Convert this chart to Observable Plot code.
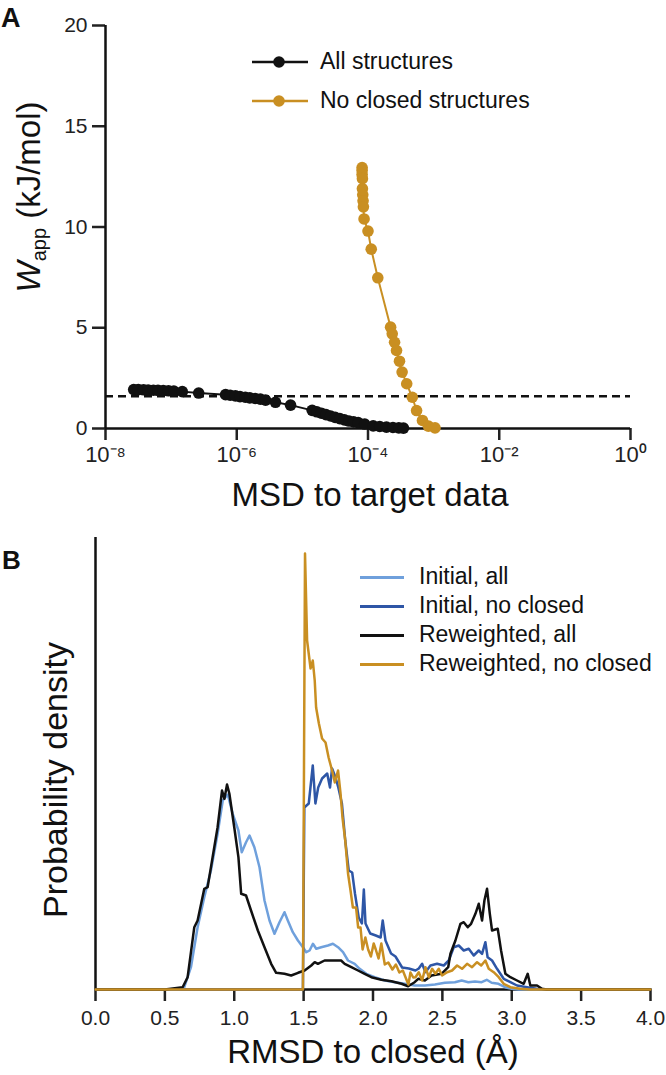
<!DOCTYPE html>
<html><head><meta charset="utf-8">
<script src="https://cdn.jsdelivr.net/npm/d3@7"></script>
<script src="https://cdn.jsdelivr.net/npm/@observablehq/plot@0.6"></script>
<style>
body{margin:0;background:#fff;font-family:"Liberation Sans",Arial,Helvetica,sans-serif;color:#111}
#fig{position:relative;width:666px;height:1075px;overflow:hidden;background:#fff}
.t{position:absolute;white-space:nowrap;line-height:1}
</style></head><body><div id="fig"></div>
<script>
// ---------- Panel A data ----------
const msdAll = [2.69e-8,3.16e-8,3.80e-8,4.47e-8,5.37e-8,6.31e-8,7.59e-8,9.12e-8,1.10e-7,1.48e-7,2.63e-7,
  6.76e-7,7.94e-7,9.55e-7,1.12e-6,1.35e-6,1.58e-6,1.91e-6,2.29e-6,2.75e-6,3.89e-6,6.61e-6,
  1.41e-5,1.66e-5,1.95e-5,2.29e-5,2.69e-5,3.16e-5,3.72e-5,4.37e-5,5.13e-5,6.03e-5,7.08e-5,8.91e-5,
  1.20e-4,1.51e-4,1.91e-4,2.40e-4,2.95e-4,3.47e-4];
const wAll = [1.93,1.93,1.92,1.91,1.90,1.89,1.88,1.87,1.86,1.83,1.76,
  1.68,1.65,1.62,1.58,1.55,1.52,1.49,1.46,1.41,1.30,1.16,
  0.90,0.83,0.76,0.69,0.62,0.55,0.49,0.43,0.37,0.33,0.29,0.22,
  0.13,0.10,0.07,0.05,0.03,0.02];
const msdNoClosed = [8.13e-5,8.13e-5,8.13e-5,8.22e-5,8.22e-5,8.32e-5,8.41e-5,8.51e-5,8.71e-5,1.0e-4,1.12e-4,1.41e-4,
  2.21e-4,2.34e-4,2.54e-4,2.72e-4,3.02e-4,3.31e-4,3.89e-4,4.73e-4,5.50e-4,6.76e-4,8.32e-4,1.05e-3];
const wNoClosed = [12.95,12.8,12.6,12.4,11.9,11.6,11.3,11.0,10.4,9.8,8.9,7.48,
  5.03,4.7,4.28,3.87,3.34,2.8,2.22,1.55,0.89,0.40,0.12,0.03];
const wThreshold = 1.6;
const xTicksA = [1e-8,1e-6,1e-4,1e-2,1];
const yTicksA = [0,5,10,15,20];
const seriesA = ["All structures","No closed structures"];

// ---------- Panel B data ----------
const initAllX = [0,0.6,0.64,0.688,0.736,0.784,0.832,0.88,0.917,0.953,0.989,1.03,1.054,1.085,1.11,1.145,1.182,1.218,1.254,1.29,1.326,1.362,1.386,1.422,1.459,1.495,1.519,1.543,1.567,1.591,1.627,1.675,1.711,1.748,1.784,1.82,1.868,1.904,1.952,2.012,2.085,2.157,2.229,2.3,2.374,2.446,2.518,2.59,2.639,2.687,2.735,2.783,2.82,2.855,2.904,2.952,3.0,3.05,4.0];
const initAllY = [0,0,0.023,0.223,0.623,0.923,1.19,1.557,1.89,1.95,1.757,1.59,1.373,1.473,1.54,1.423,1.223,0.89,0.69,0.557,0.673,0.773,0.69,0.573,0.49,0.423,0.373,0.39,0.457,0.407,0.423,0.44,0.457,0.423,0.373,0.29,0.257,0.207,0.157,0.123,0.09,0.073,0.057,0.04,0.04,0.05,0.067,0.073,0.09,0.073,0.08,0.073,0.097,0.067,0.057,0.023,0.007,0,0];
const initNoX = [0,1.495,1.505,1.537,1.566,1.585,1.605,1.633,1.67,1.69,1.705,1.73,1.75,1.776,1.80,1.825,1.85,1.87,1.897,1.92,1.934,1.946,1.98,2.02,2.055,2.07,2.09,2.13,2.162,2.21,2.258,2.306,2.33,2.354,2.378,2.414,2.462,2.51,2.546,2.582,2.618,2.654,2.69,2.726,2.762,2.786,2.81,2.826,2.858,2.894,2.942,2.99,3.038,3.11,3.18,3.25,4.0];
const initNoY = [0,0,1.82,1.86,2.24,1.86,2.02,2.11,2.16,2.02,2.21,2.12,2.02,1.86,1.49,1.19,1.17,0.96,0.72,0.66,1.0,0.66,0.56,0.54,0.52,0.69,0.49,0.36,0.33,0.22,0.21,0.19,0.21,0.257,0.173,0.24,0.257,0.24,0.29,0.423,0.44,0.39,0.407,0.34,0.39,0.357,0.473,0.323,0.29,0.207,0.107,0.073,0.04,0.023,0.007,0,0];
const rewAllX = [0,0.5,0.628,0.664,0.712,0.736,0.784,0.808,0.844,0.88,0.912,0.929,0.948,0.965,1.0,1.03,1.05,1.085,1.121,1.17,1.218,1.266,1.302,1.362,1.41,1.46,1.507,1.555,1.58,1.603,1.651,1.71,1.77,1.796,1.844,1.892,1.94,1.988,2.06,2.133,2.205,2.253,2.3,2.326,2.374,2.422,2.494,2.542,2.558,2.594,2.63,2.654,2.683,2.707,2.738,2.762,2.786,2.803,2.822,2.842,2.858,2.899,2.923,2.954,2.99,3.038,3.086,3.115,3.134,3.182,3.218,3.25,4.0];
const rewAllY = [0,0,0.023,0.123,0.623,0.69,1.007,1.023,1.323,1.623,1.99,1.907,2.05,1.957,1.623,1.323,0.957,0.94,0.79,0.59,0.423,0.257,0.167,0.157,0.14,0.167,0.19,0.24,0.273,0.257,0.29,0.29,0.29,0.257,0.223,0.19,0.157,0.123,0.097,0.083,0.057,0.033,0.073,0.107,0.09,0.14,0.157,0.223,0.357,0.49,0.657,0.673,0.623,0.657,0.757,0.857,0.69,0.89,1.007,0.757,0.59,0.607,0.39,0.157,0.123,0.09,0.057,0.157,0.04,0.04,0.007,0,0];
const rewNoX = [0,1.495,1.51,1.525,1.55,1.566,1.58,1.59,1.61,1.633,1.658,1.68,1.705,1.725,1.748,1.766,1.78,1.80,1.82,1.838,1.855,1.878,1.893,1.91,1.925,1.945,1.965,1.985,2.005,2.02,2.04,2.06,2.085,2.11,2.14,2.165,2.19,2.215,2.235,2.255,2.27,2.29,2.306,2.33,2.354,2.378,2.402,2.426,2.45,2.474,2.498,2.534,2.57,2.606,2.642,2.678,2.714,2.75,2.78,2.81,2.834,2.87,2.906,2.942,2.99,3.06,3.13,4.0];
const rewNoY = [0,0,4.36,3.49,3.21,3.29,3.09,2.82,2.66,2.51,2.47,2.32,2.19,2.07,2.19,1.96,1.72,1.49,1.16,0.99,0.82,0.82,0.62,0.62,0.40,0.52,0.40,0.33,0.46,0.40,0.31,0.46,0.25,0.27,0.20,0.25,0.17,0.19,0.12,0.05,0.17,0.12,0.123,0.173,0.09,0.223,0.123,0.207,0.157,0.207,0.14,0.173,0.19,0.24,0.207,0.257,0.223,0.273,0.24,0.29,0.207,0.173,0.123,0.057,0.023,0.007,0,0];
const xTicksB = [0,0.5,1,1.5,2,2.5,3,3.5,4];
const seriesB = ["Initial, all","Initial, no closed","Reweighted, all","Reweighted, no closed"];
const colorsB = ["#6FA0DC","#2E56A6","#111111","#C98F22"];
const colorsA = ["#111111","#C98F22"];

const FONT = '"Liberation Sans", Arial, Helvetica, sans-serif';
const fig = document.getElementById("fig");
function put(el, left, top){ el.style.position="absolute"; el.style.left=left+"px"; el.style.top=top+"px"; fig.appendChild(el); return el; }
function txt(html, left, top, size, extra){ const d=document.createElement("div"); d.className="t"; d.innerHTML=html; d.style.fontSize=size+"px"; if(extra) Object.assign(d.style, extra); return put(d,left,top); }

// ---------- Panel A ----------
const dataAll = msdAll.map((m,i)=>({msd:m, w:wAll[i]}));
const dataNo = msdNoClosed.map((m,i)=>({msd:m, w:wNoClosed[i]}));
const sup = {"-":"\u207B","0":"\u2070","1":"\u00B9","2":"\u00B2","3":"\u00B3","4":"\u2074","5":"\u2075","6":"\u2076","7":"\u2077","8":"\u2078","9":"\u2079"};
const fmtPow = d => "10" + String(Math.round(Math.log10(d))).split("").map(c=>sup[c]).join("");

const plotA = Plot.plot({
  width:666, height:520,
  marginLeft:105, marginRight:36, marginTop:25, marginBottom:92,
  style:{fontFamily:FONT, fontSize:"21px", color:"#222", background:"transparent", overflow:"visible"},
  x:{type:"log", domain:[1e-8,1]},
  y:{domain:[0,20]},
  marks:[
    Plot.axisY({ticks:yTicksA, tickSize:13, tickPadding:5, strokeWidth:2.5, label:null, fill:"#222"}),
    Plot.axisX({ticks:xTicksA, tickSize:12, tickPadding:6, strokeWidth:2.5, tickFormat:fmtPow, label:null, fill:"#222", fontSize:22}),
    Plot.ruleY([wThreshold], {stroke:"#111", strokeWidth:2.5, strokeDasharray:"8,5"}),
    Plot.ruleX([1e-8], {stroke:"#111", strokeWidth:2.5}),
    Plot.ruleY([0], {stroke:"#111", strokeWidth:2.5}),
    Plot.line(dataAll, {x:"msd", y:"w", stroke:colorsA[0], strokeWidth:2}),
    Plot.dot(dataAll, {x:"msd", y:"w", r:5.8, fill:colorsA[0], stroke:"none"}),
    Plot.line(dataNo, {x:"msd", y:"w", stroke:colorsA[1], strokeWidth:2}),
    Plot.dot(dataNo, {x:"msd", y:"w", r:5.8, fill:colorsA[1], stroke:"none"})
  ]
});
put(plotA, 0, 0);

txt("A", 1, 5, 27, {fontWeight:"bold"});
txt("MSD to target data", 370, 478, 33, {transform:"translateX(-50%)"});
txt('<i>W</i><span style="font-size:20px;position:relative;top:6px">app</span>&nbsp;(kJ/mol)', 28, 197, 33, {transform:"translate(-50%,-50%) rotate(-90deg)"});

// legend A
seriesA.forEach((s,i)=>{
  const y = 62 + i*39;
  const ns="http://www.w3.org/2000/svg";
  const svg=document.createElementNS(ns,"svg"); svg.setAttribute("width",60); svg.setAttribute("height",14);
  svg.innerHTML=`<line x1="1" y1="7" x2="57" y2="7" stroke="${colorsA[i]}" stroke-width="2.5"/><circle cx="28" cy="7" r="5.8" fill="${colorsA[i]}"/>`;
  svg.style.position="absolute"; svg.style.left="251px"; svg.style.top=(y-7)+"px"; fig.appendChild(svg);
  txt(s, 320, y-12, 23);
});

// ---------- Panel B ----------
const mk = (xs, ys) => xs.map((x,i)=>({r:x, d:ys[i]}));
const curves = [mk(initAllX,initAllY), mk(initNoX,initNoY), mk(rewAllX,rewAllY), mk(rewNoX,rewNoY)];
const plotB = Plot.plot({
  width:666, height:545,
  marginLeft:95, marginRight:16, marginTop:7, marginBottom:86,
  style:{fontFamily:FONT, fontSize:"21px", color:"#222", background:"transparent", overflow:"visible"},
  x:{domain:[0,4]},
  y:{domain:[0,4.52], axis:null},
  marks:[
    Plot.axisX({ticks:xTicksB, tickSize:12, tickPadding:9, strokeWidth:2.5, tickFormat:d3.format(".1f"), label:null, fill:"#222"}),
    Plot.ruleX([0], {stroke:"#111", strokeWidth:2.5}),
    Plot.ruleY([0], {stroke:"#111", strokeWidth:2.5}),
    ...curves.map((c,i)=>Plot.line(c, {x:"r", y:"d", stroke:colorsB[i], strokeWidth:2.5}))
  ]
});
put(plotB, 0, 530);

txt("B", 2, 547, 26, {fontWeight:"bold"});
txt("RMSD to closed (Å)", 373, 1035, 33, {transform:"translateX(-50%)"});
txt("Probability density", 55, 780, 34, {transform:"translate(-50%,-50%) rotate(-90deg)"});

seriesB.forEach((s,i)=>{
  const y = 577 + i*29;
  const d=document.createElement("div"); d.style.width="44px"; d.style.height="3px"; d.style.background=colorsB[i];
  put(d, 360, y-1.5);
  txt(s, 419, y-12, 23);
});
</script>
</body></html>
